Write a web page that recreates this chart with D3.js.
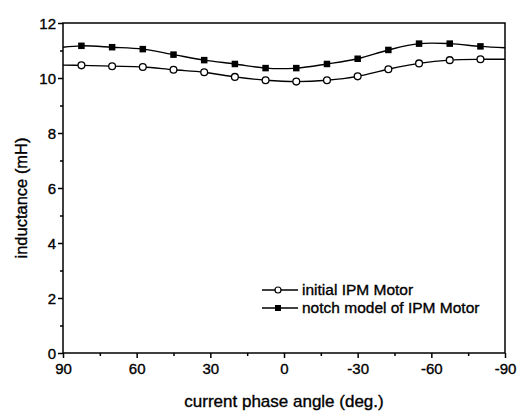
<!DOCTYPE html>
<html>
<head>
<meta charset="utf-8">
<script src="https://cdn.jsdelivr.net/npm/d3@7"></script>
<style>
  html, body { margin: 0; padding: 0; background: #fff; }
  svg { display: block; }
  text { font-family: "Liberation Sans", Arial, sans-serif; fill: #000; stroke: #000; stroke-width: 0.35px; }
</style>
</head>
<body>
<svg id="chart" width="526" height="417"></svg>
<script>
// ---- data ----
const angles = [82.5, 70, 57.5, 45, 32.5, 20, 7.5, -5, -17.5, -30, -42.5, -55, -67.5, -80];
const initialIPM = [10.46, 10.43, 10.40, 10.30, 10.21, 10.04, 9.92, 9.87, 9.92, 10.06, 10.32, 10.53, 10.65, 10.68];
const notchIPM   = [11.17, 11.12, 11.05, 10.85, 10.65, 10.51, 10.36, 10.36, 10.51, 10.70, 11.02, 11.25, 11.25, 11.15];
// values where the fitted curves meet the frame at 90 and -90 deg
const edgeAngles = [90, -90];
const initialEdge = [10.47, 10.68];
const notchEdge = [11.12, 11.10];
const xTicks = [90, 60, 30, 0, -30, -60, -90];
const xMinor = [75, 45, 15, -15, -45, -75];
const yTicks = [0, 2, 4, 6, 8, 10, 12];
const yMinor = [1, 3, 5, 7, 9, 11];
const seriesNames = ["initial IPM Motor", "notch model of IPM Motor"];

// ---- layout ----
const svg = d3.select("#chart");
const mLeft = 63, mRight = 505, mTop = 23, mBottom = 353;
const x = d3.scaleLinear().domain([90, -90]).range([mLeft, mRight]);
const y = d3.scaleLinear().domain([0, 12]).range([mBottom, mTop]);
const fmt = d => String(d);

// frame
svg.append("rect")
  .attr("x", mLeft).attr("y", mTop)
  .attr("width", mRight - mLeft).attr("height", mBottom - mTop)
  .attr("fill", "none").attr("stroke", "#000").attr("stroke-width", 1.5);

// axes
const xAxis = svg.append("g").attr("transform", `translate(0,${mBottom})`)
  .call(d3.axisBottom(x).tickValues(xTicks).tickSize(5).tickFormat(fmt));
const xAxisMinor = svg.append("g").attr("transform", `translate(0,${mBottom})`)
  .call(d3.axisBottom(x).tickValues(xMinor).tickSize(3).tickFormat(""));
const yAxis = svg.append("g").attr("transform", `translate(${mLeft},0)`)
  .call(d3.axisLeft(y).tickValues(yTicks).tickSize(5).tickFormat(fmt));
const yAxisMinor = svg.append("g").attr("transform", `translate(${mLeft},0)`)
  .call(d3.axisLeft(y).tickValues(yMinor).tickSize(3).tickFormat(""));

[xAxis, xAxisMinor, yAxis, yAxisMinor].forEach(g => {
  g.select(".domain").remove();
  g.selectAll(".tick line").attr("stroke", "#000").attr("stroke-width", 1.5);
  g.selectAll(".tick text")
    .style("font-family", "'Liberation Sans', Arial, sans-serif")
    .style("font-size", "15px").attr("fill", "#000");
});
xAxis.selectAll(".tick text").attr("dy", "0.71em").attr("y", 10);
yAxis.selectAll(".tick text").attr("x", -7).attr("dy", "0.36em");

// axis titles
svg.append("text")
  .attr("x", (mLeft + mRight) / 2).attr("y", 407)
  .attr("text-anchor", "middle")
  .style("font-size", "17px")
  .text("current phase angle (deg.)");
svg.append("text")
  .attr("transform", "translate(27,198) rotate(-90)")
  .attr("text-anchor", "middle")
  .style("font-size", "16.5px")
  .text("inductance (mH)");

// lines
const line = d3.line().x(d => x(d[0])).y(d => y(d[1])).curve(d3.curveCatmullRom.alpha(0.5));
function linePoints(vals, edge) {
  const pts = angles.map((a, i) => [a, vals[i]]);
  return [[edgeAngles[0], edge[0]], ...pts, [edgeAngles[1], edge[1]]];
}
svg.append("path").datum(linePoints(initialIPM, initialEdge))
  .attr("d", line).attr("fill", "none").attr("stroke", "#000").attr("stroke-width", 1.4);
svg.append("path").datum(linePoints(notchIPM, notchEdge))
  .attr("d", line).attr("fill", "none").attr("stroke", "#000").attr("stroke-width", 1.4);

// markers
svg.append("g").selectAll("circle").data(angles.map((a, i) => [a, initialIPM[i]]))
  .join("circle")
  .attr("cx", d => x(d[0])).attr("cy", d => y(d[1])).attr("r", 3.4)
  .attr("fill", "#fff").attr("stroke", "#000").attr("stroke-width", 1.3);
const sq = 6.5;
svg.append("g").selectAll("rect").data(angles.map((a, i) => [a, notchIPM[i]]))
  .join("rect")
  .attr("x", d => x(d[0]) - sq / 2).attr("y", d => y(d[1]) - sq / 2)
  .attr("width", sq).attr("height", sq).attr("fill", "#000");

// legend
const legend = svg.append("g");
const legRows = [290, 308];
seriesNames.forEach((name, i) => {
  const ly = legRows[i];
  legend.append("line").attr("x1", 262).attr("x2", 298).attr("y1", ly).attr("y2", ly)
    .attr("stroke", "#000").attr("stroke-width", 1.4);
  if (i === 0) {
    legend.append("circle").attr("cx", 278).attr("cy", ly).attr("r", 3)
      .attr("fill", "#fff").attr("stroke", "#000").attr("stroke-width", 1.2);
  } else {
    legend.append("rect").attr("x", 278 - 3).attr("y", ly - 3).attr("width", 6).attr("height", 6)
      .attr("fill", "#000");
  }
  legend.append("text").attr("x", 302).attr("y", ly).attr("dy", "0.35em")
    .style("font-size", "15.5px").text(name);
});
</script>
</body>
</html>
